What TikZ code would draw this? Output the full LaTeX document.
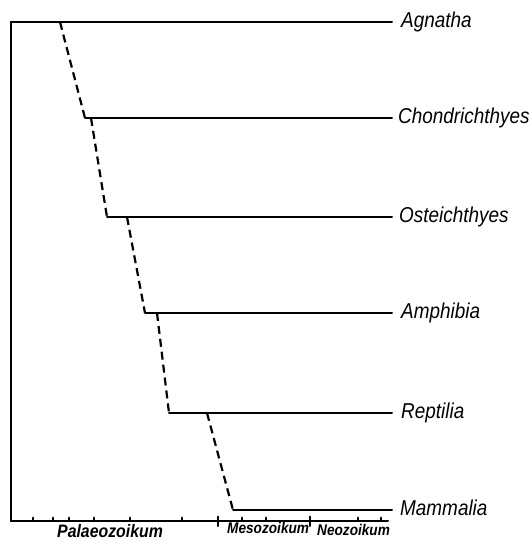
\documentclass[tikz,border=0pt]{standalone}
\usepackage{fontspec}
\newfontfamily\taxonfont[FakeStretch=0.88]{Liberation Sans}
\usetikzlibrary{positioning}

\tikzset{
    branch/.style={line width=2pt, line cap=round},
    ancestry/.style={line width=2.2pt, dash pattern=on 8pt off 5pt},
    taxon/.style={font=\taxonfont\itshape\fontsize{21.5}{24}\selectfont, inner sep=0pt, anchor=base west, yshift=-5pt},
    era/.style={font=\taxonfont\bfseries\itshape\fontsize{15.5}{17}\selectfont, inner sep=0pt, anchor=base west},
}

\begin{document}
\begin{tikzpicture}[x=1pt, y=-1pt]
    \useasboundingbox (0,0) rectangle (532,542);

    \coordinate (o) at (11,22);
    \coordinate (ax) at (11,521);
    \coordinate (axe) at (388,521);

    \coordinate (d1) at (60,22);
    \coordinate (s2) at (85,118);
    \coordinate (d2) at (91,118);
    \coordinate (s3) at (107,217);
    \coordinate (d3) at (127,217);
    \coordinate (s4) at (145,313);
    \coordinate (d4) at (157,313);
    \coordinate (s5) at (169,413);
    \coordinate (d5) at (207,413);
    \coordinate (s6) at (233,510);

    \coordinate (e1) at (392,22);
    \coordinate (e2) at (392,118);
    \coordinate (e3) at (392,217);
    \coordinate (e4) at (392,313);
    \coordinate (e5) at (392,413);
    \coordinate (e6) at (392,510);

    \node [taxon, right=9pt of e1, anchor=base west] (agn) {Agnatha};
    \node [taxon, right=6pt of e2, anchor=base west] (cho) {Chondrichthyes};
    \node [taxon, right=7pt of e3, anchor=base west] (ost) {Osteichthyes};
    \node [taxon, right=9pt of e4, anchor=base west] (amp) {Amphibia};
    \node [taxon, right=9pt of e5, anchor=base west] (rep) {Reptilia};
    \node [taxon, right=8pt of e6, anchor=base west] (mam) {Mammalia};

    \draw [branch] (ax) -- (o) -- (e1);
    \draw [branch] (ax) -- (axe);
    \draw [branch] (s2) -- (e2);
    \draw [branch] (s3) -- (e3);
    \draw [branch] (s4) -- (e4);
    \draw [branch] (s5) -- (e5);
    \draw [branch] (s6) -- (e6);

    \draw [ancestry] (d1) -- (s2);
    \draw [ancestry] (d2) -- (s3);
    \draw [ancestry] (d3) -- (s4);
    \draw [ancestry] (d4) -- (s5);
    \draw [ancestry] (d5) -- (s6);

    \foreach \t in {33,53,69,94,130,182,242,266,358,381}
        \draw [branch] (\t,521) -- (\t,517.5);
    \foreach \t in {218,310}
        \draw [branch] (\t,516.5) -- (\t,526);

    \node [era, font=\taxonfont\bfseries\itshape\fontsize{18}{20}\selectfont] (pal) at (57,537) {Palaeozoikum};
    \node [era] (mes) at (227,533) {Mesozoikum};
    \node [era] (neo) at (317,535) {Neozoikum};
\end{tikzpicture}
\end{document}
